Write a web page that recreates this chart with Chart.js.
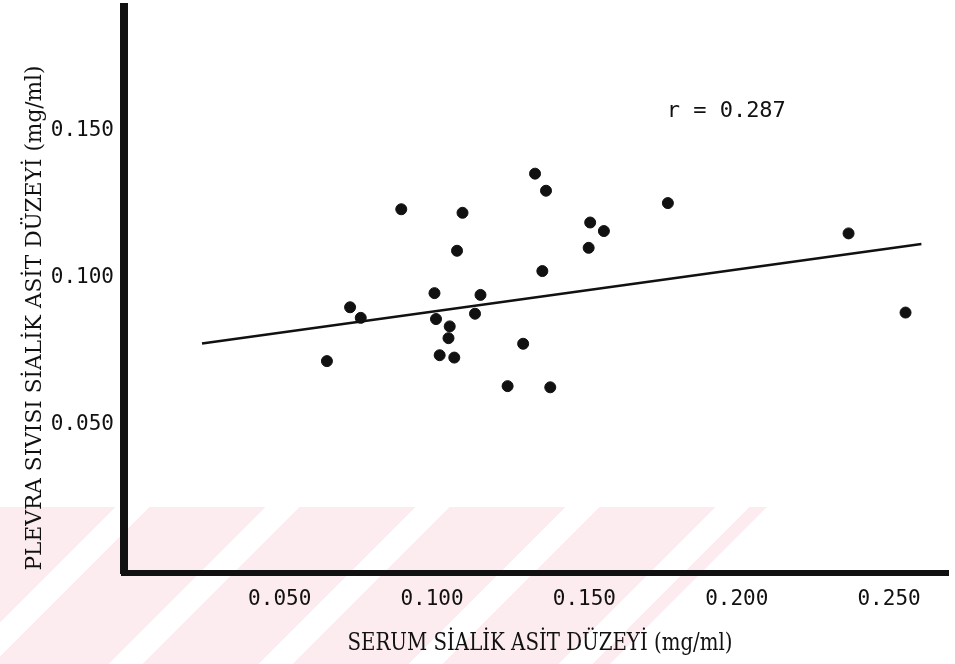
<!DOCTYPE html>
<html>
<head>
<meta charset="utf-8">
<script src="https://cdn.jsdelivr.net/npm/chart.js@4.4.0/dist/chart.umd.min.js"></script>
<style>
  html, body { margin: 0; padding: 0; background: #fff; }
  #wrap { position: relative; width: 955px; height: 664px; overflow: hidden; }
  /* faint diagonal watermark of the scanned page */
  #mark {
    position: absolute; left: 0; top: 507px; width: 955px; height: 157px;
    clip-path: polygon(0 0, 767px 0, 610px 157px, 0 157px);
    background: repeating-linear-gradient(135deg, #fdecef 0 82px, #fff 82px 106px);
  }
  canvas { position: absolute; left: 0; top: 0; }
</style>
</head>
<body>
<div id="wrap">
  <div id="mark"></div>
  <canvas id="chart" width="955" height="664"></canvas>
</div>
<script>
// serum vs pleural fluid sialic acid (mg/ml)
const serum  = [0.0655, 0.0731, 0.0766, 0.0899, 0.1008, 0.1013, 0.1058, 0.1054, 0.1025,
                0.1073, 0.1082, 0.1100, 0.1159, 0.1141, 0.1248, 0.1299, 0.1338, 0.1374,
                0.1362, 0.1388, 0.1519, 0.1564, 0.1514, 0.1774, 0.2367, 0.2554];
const plevra = [0.0698, 0.0881, 0.0845, 0.1214, 0.0929, 0.0841, 0.0816, 0.0776, 0.0718,
                0.0710, 0.1073, 0.1202, 0.0923, 0.0859, 0.0613, 0.0757, 0.1335, 0.1277,
                0.1004, 0.0609, 0.1169, 0.1140, 0.1083, 0.1235, 0.1132, 0.0863];

// regression line end points
const fitX = [0.0245, 0.2606];
const fitY = [0.0758, 0.1096];

const xTicks = [0.05, 0.10, 0.15, 0.20, 0.25];
const yTicks = [0.05, 0.10, 0.15];

const xTitle = 'SERUM SİALİK ASİT DÜZEYİ (mg/ml)';
const yTitle = 'PLEVRA SIVISI SİALİK ASİT DÜZEYİ (mg/ml)';
const rText = 'r = 0.287';

const ink = '#111';
const monoFont = '"DejaVu Sans Mono", "Liberation Mono", monospace';
const serifFont = '"DejaVu Serif Condensed", "DejaVu Serif", "Liberation Serif", serif';

// draw text squeezed/stretched to a given length
function fitText(ctx, text, size, cx, cy, len, angle) {
  ctx.save();
  ctx.font = size + 'px ' + serifFont;
  const w = ctx.measureText(text).width;
  ctx.translate(cx, cy);
  ctx.rotate(angle);
  ctx.scale(len / w, 1);
  ctx.textAlign = 'center';
  ctx.textBaseline = 'middle';
  ctx.fillText(text, 0, 0);
  ctx.restore();
}

const labels = {
  id: 'labels',
  afterDraw(chart) {
    const ctx = chart.ctx;
    const { x, y } = chart.scales;
    ctx.save();
    ctx.fillStyle = ink;
    ctx.font = '22px ' + monoFont;
    ctx.textBaseline = 'middle';
    ctx.fillText(rText, x.getPixelForValue(0.177), y.getPixelForValue(0.1547));
    fitText(ctx, xTitle, 25, 540, 643, 385, 0);
    fitText(ctx, yTitle, 23, 35, 318, 505, -Math.PI / 2);
    ctx.restore();
  }
};

new Chart(document.getElementById('chart'), {
  type: 'scatter',
  data: {
    datasets: [
      {
        data: serum.map((v, i) => ({ x: v, y: plevra[i] })),
        backgroundColor: ink,
        borderColor: ink,
        pointRadius: 5.5,
        pointHoverRadius: 5.5
      },
      {
        data: fitX.map((v, i) => ({ x: v, y: fitY[i] })),
        showLine: true,
        borderColor: ink,
        borderWidth: 2.5,
        pointRadius: 0,
        fill: false
      }
    ]
  },
  options: {
    responsive: false,
    animation: false,
    events: [],
    layout: { padding: { top: 5, right: 5, left: 0, bottom: 0 } },
    plugins: { legend: { display: false }, tooltip: { enabled: false } },
    scales: {
      x: {
        type: 'linear',
        min: -0.0011,
        max: 0.2695,
        afterBuildTicks: s => { s.ticks = xTicks.map(v => ({ value: v })); },
        afterFit: s => { s.height = 91; s.paddingLeft = 0; s.paddingRight = 0; },
        grid: { display: false, drawTicks: false },
        border: { display: true, color: ink, width: 6 },
        ticks: {
          color: ink,
          font: { family: monoFont, size: 21 },
          padding: 14,
          maxRotation: 0,
          autoSkip: false,
          callback: v => v.toFixed(3)
        }
      },
      y: {
        type: 'linear',
        min: -0.0022,
        max: 0.1903,
        afterBuildTicks: s => { s.ticks = yTicks.map(v => ({ value: v })); },
        afterFit: s => { s.width = 124; s.paddingTop = 0; s.paddingBottom = 0; },
        grid: { display: false, drawTicks: false },
        border: { display: true, color: ink, width: 8 },
        ticks: {
          color: ink,
          font: { family: monoFont, size: 21 },
          padding: 10,
          labelOffset: 5,
          autoSkip: false,
          callback: v => v.toFixed(3)
        }
      }
    }
  },
  plugins: [labels]
});
</script>
</body>
</html>
